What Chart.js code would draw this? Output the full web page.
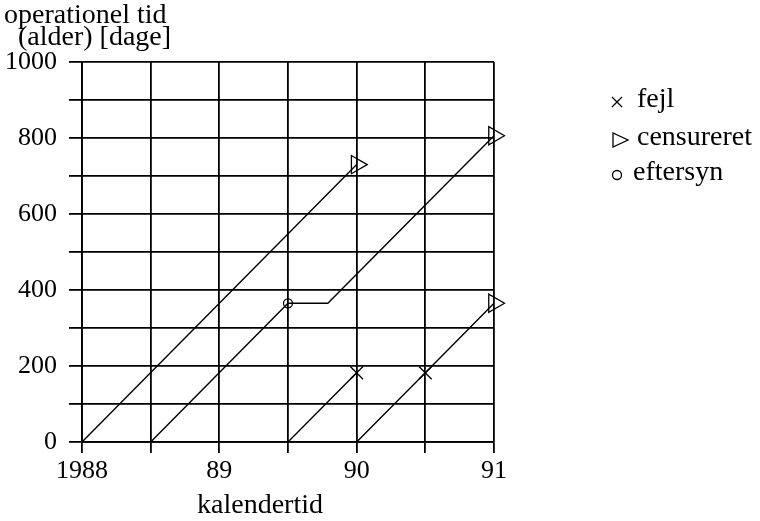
<!DOCTYPE html>
<html>
<head>
<meta charset="utf-8">
<script src="https://cdn.jsdelivr.net/npm/chart.js@4/dist/chart.umd.min.js"></script>
<style>
  html, body { margin: 0; padding: 0; background: #fff; }
  #wrap { width: 760px; height: 521px; position: relative; }
</style>
</head>
<body>
<div id="wrap"><canvas id="c" width="760" height="521"></canvas></div>
<script>
// Calendar time (years) and operational age (days) for each unit's history
const unitAYears = [1988, 1990];
const unitADays  = [0, 730];

const unitBYears = [1988.5, 1989.5, 1989.79, 1991];
const unitBDays  = [0, 365, 365, 806];

const unitCYears = [1989.5, 1990];
const unitCDays  = [0, 182];

const unitDYears = [1990, 1990.5, 1991];
const unitDDays  = [0, 182, 365];

// Event markers
const failureYears   = [1990, 1990.5];
const failureDays    = [182, 182];
const censoredYears  = [1990, 1991, 1991];
const censoredDays   = [730, 806, 365];
const inspectYears   = [1989.5];
const inspectDays    = [365];

// Axis and legend texts
const yearTickLabels = { 1988: '1988', 1989: '89', 1990: '90', 1991: '91' };
const yTickLabels = [0, 200, 400, 600, 800, 1000];
const legendLabels = ['fejl', 'censureret', 'eftersyn'];
const yTitleLines = ['operationel tid', '(alder) [dage]'];
const xTitle = 'kalendertid';

const FONT = '"Liberation Serif", "Times New Roman", serif';
const pts = (xs, ys) => xs.map((x, i) => ({ x: x, y: ys[i] }));

const lineDs = (xs, ys) => ({
  data: pts(xs, ys),
  showLine: true,
  borderColor: '#000',
  borderWidth: 1.4,
  pointRadius: 0,
  tension: 0,
  clip: false
});

const texts = {
  id: 'texts',
  afterDraw(chart) {
    const ctx = chart.ctx;
    ctx.save();
    ctx.fillStyle = '#000';
    ctx.strokeStyle = '#000';
    ctx.font = '28px ' + FONT;
    ctx.textBaseline = 'alphabetic';
    ctx.textAlign = 'left';
    ctx.fillText(yTitleLines[0], 4, 23);
    ctx.fillText(yTitleLines[1], 18, 45);
    ctx.textAlign = 'center';
    ctx.fillText(xTitle, 260, 513);

    // legend
    ctx.textAlign = 'left';
    ctx.lineWidth = 1.3;
    // cross
    ctx.beginPath();
    ctx.moveTo(612, 97); ctx.lineTo(622, 107);
    ctx.moveTo(622, 97); ctx.lineTo(612, 107);
    ctx.stroke();
    ctx.fillText(legendLabels[0], 637, 107);
    // triangle
    ctx.beginPath();
    ctx.moveTo(613, 133); ctx.lineTo(613, 147); ctx.lineTo(628, 140); ctx.closePath();
    ctx.stroke();
    ctx.fillText(legendLabels[1], 637, 145);
    // circle
    ctx.beginPath();
    ctx.arc(617, 175, 4.5, 0, Math.PI * 2);
    ctx.stroke();
    ctx.fillText(legendLabels[2], 633, 180);
    ctx.restore();
  }
};

new Chart(document.getElementById('c'), {
  type: 'scatter',
  data: {
    datasets: [
      lineDs(unitAYears, unitADays),
      lineDs(unitBYears, unitBDays),
      lineDs(unitCYears, unitCDays),
      lineDs(unitDYears, unitDDays),
      {
        data: pts(failureYears, failureDays),
        pointStyle: 'crossRot',
        pointRadius: 9,
        pointBorderWidth: 1.3,
        borderColor: '#000',
        backgroundColor: 'rgba(0,0,0,0)',
        clip: false
      },
      {
        data: pts(censoredYears, censoredDays),
        pointStyle: 'triangle',
        rotation: 90,
        pointRotation: 90,
        pointRadius: 10.5,
        pointBorderWidth: 1.3,
        borderColor: '#000',
        backgroundColor: 'rgba(0,0,0,0)',
        clip: false
      },
      {
        data: pts(inspectYears, inspectDays),
        pointStyle: 'circle',
        pointRadius: 4.5,
        pointBorderWidth: 1.3,
        borderColor: '#000',
        backgroundColor: 'rgba(0,0,0,0)',
        clip: false
      }
    ]
  },
  options: {
    responsive: false,
    animation: false,
    events: [],
    layout: { padding: { left: 0, right: 266, top: 62, bottom: 0 } },
    plugins: { legend: { display: false }, tooltip: { enabled: false } },
    scales: {
      x: {
        type: 'linear',
        min: 1988,
        max: 1991,
        afterFit(scale) { scale.height = 79; },
        afterBuildTicks(scale) {
          const t = [];
          for (let v = 1988; v <= 1991.001; v += 0.5) t.push({ value: v });
          scale.ticks = t;
        },
        ticks: {
          autoSkip: false,
          maxRotation: 0,
          padding: 3,
          color: '#000',
          font: { family: FONT, size: 26 },
          callback: (v) => yearTickLabels[v] || ''
        },
        grid: { color: '#000', lineWidth: 1.8, tickLength: 11, drawTicks: true },
        border: { display: true, color: '#000', width: 1.8 }
      },
      y: {
        type: 'linear',
        min: 0,
        max: 1000,
        afterFit(scale) { scale.width = 82; },
        ticks: {
          stepSize: 100,
          autoSkip: false,
          padding: 12,
          color: '#000',
          font: { family: FONT, size: 26 },
          callback: (v) => yTickLabels.includes(v) ? String(v) : ''
        },
        grid: { color: '#000', lineWidth: 1.8, tickLength: 13, drawTicks: true },
        border: { display: true, color: '#000', width: 1.8 }
      }
    }
  },
  plugins: [texts]
});
</script>
</body>
</html>
